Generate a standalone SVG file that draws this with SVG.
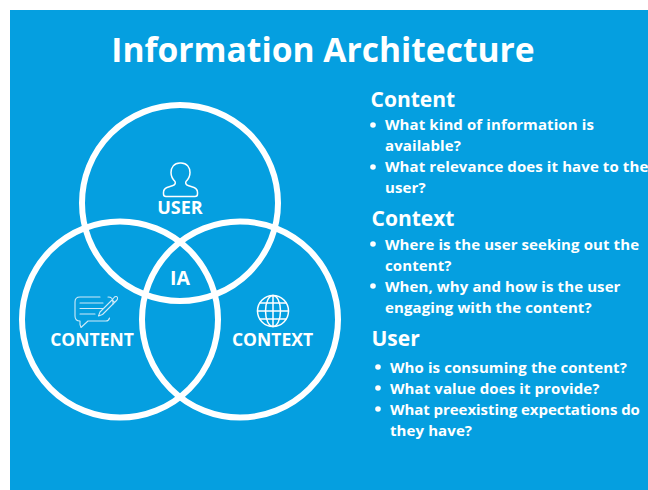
<svg xmlns="http://www.w3.org/2000/svg" width="648" height="490" viewBox="0 0 648 490">
<style>
text{font-family:"Open Sans","Liberation Sans",sans-serif;fill:#fff;font-weight:700}
.ring{fill:none;stroke:#fff;stroke-width:6}
.ic{fill:none;stroke:#fff;stroke-width:1.5;stroke-linejoin:round;stroke-linecap:round}
.ic2{fill:none;stroke:#cfeaf8;stroke-width:1.1;stroke-linejoin:round;stroke-linecap:round}
.lab{font-size:17.500px;text-anchor:middle}
.h{font-size:21px}
.b{font-size:15px;letter-spacing:.1px}
</style>
<rect width="648" height="490" fill="#fff"/>
<rect x="10" y="10" width="638" height="480" fill="#059fe0"/>
<text x="323" y="62" font-size="33.600" text-anchor="middle">Information Architecture</text>
<g id="connectors"/>
<g id="user">
<circle class="ring" cx="180" cy="203" r="98"/>
<path class="ic" d="M180 163c-6 0-9 4.500-9 9.500 0 4 2 7 4 9 .8 1.500 0 3.500-2 4l-6 2c-2.500 1-3.500 3-3.500 5v1.500c0 1.500 1 2.500 2.500 2.500h29c1.500 0 2.500-1 2.500-2.500v-1.500c0-2-1-4-3.500-5l-6-2c-2-.5-2.800-2.500-2-4 2-2 4-5 4-9 0-5-3-9.500-9-9.500z"/>
<text class="lab" x="180" y="214" style="font-size:18px">USER</text>
</g>
<g id="content">
<circle class="ring" cx="120" cy="319.500" r="98"/>
<path class="ic2" d="M100 297H80c-3 0-5 2-5 5v14c0 3 2 5 5 5h0v3.500l1 3 7-6.500h18c2 0 3-1 3.500-3M113 304v-2c0-3-2-5-5-5"/>
<path class="ic2" d="M80 303h23M80 308.500h23M80 314h15"/>
<path class="ic2" d="M100 312l12-12 2.500 2.500-12 12-4 1.500zM112 300l2.500-3c1-1 3-.5 3 1 .5 1-.5 2-1 2.500l-2 2"/>
<text class="lab" x="92" y="346">CONTENT</text>
</g>
<g id="context">
<circle class="ring" cx="240" cy="319.500" r="98"/>
<g class="ic"><circle cx="273" cy="311" r="15.500"/><ellipse cx="273" cy="311" rx="7.500" ry="15.500"/><path d="M273 295.500v31M257.500 311h31M260 303h26M260 319h26"/></g>
<text class="lab" x="272.500" y="346">CONTEXT</text>
</g>
<g id="ia"><text x="180" y="284.500" font-size="19.500" text-anchor="middle">IA</text></g>
<g id="text-content">
<text class="h" x="370.500" y="107">Content</text>
<circle cx="373" cy="125" r="2.800" fill="#fff"/>
<text class="b" x="385" y="130">What kind of information is</text>
<text class="b" x="385" y="151">available?</text>
<circle cx="373" cy="167" r="2.800" fill="#fff"/>
<text class="b" x="385" y="172">What relevance does it have to the</text>
<text class="b" x="385" y="193">user?</text>
</g>
<g id="text-context">
<text class="h" x="371.500" y="226">Context</text>
<circle cx="373" cy="244" r="2.800" fill="#fff"/>
<text class="b" x="385" y="250">Where is the user seeking out the</text>
<text class="b" x="385" y="271">content?</text>
<circle cx="373" cy="286" r="2.800" fill="#fff"/>
<text class="b" x="385" y="292">When, why and how is the user</text>
<text class="b" x="385" y="313">engaging with the content?</text>
</g>
<g id="text-user">
<text class="h" x="371.500" y="346">User</text>
<circle cx="378" cy="367" r="2.800" fill="#fff"/>
<text class="b" x="390" y="373">Who is consuming the content?</text>
<circle cx="378" cy="388" r="2.800" fill="#fff"/>
<text class="b" x="390" y="394">What value does it provide?</text>
<circle cx="378" cy="409" r="2.800" fill="#fff"/>
<text class="b" x="390" y="415" textLength="250">What preexisting expectations do</text>
<text class="b" x="390" y="436">they have?</text>
</g>
</svg>
